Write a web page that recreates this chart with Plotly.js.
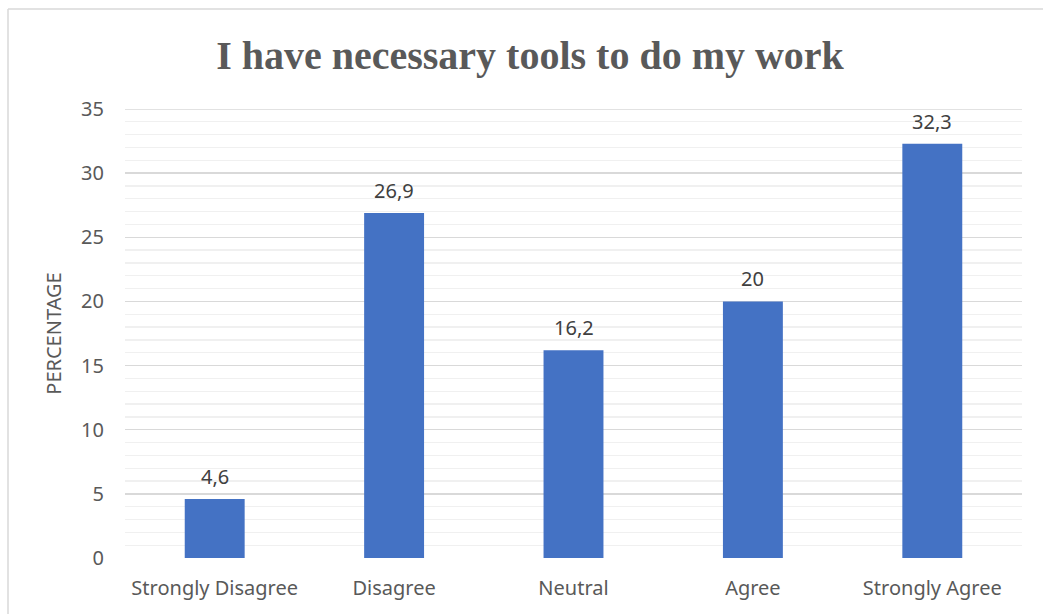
<!DOCTYPE html>
<html><head><meta charset="utf-8">
<script src="https://cdn.plot.ly/plotly-3.0.1.min.js"></script>
<style>html,body{margin:0;padding:0;background:#fff;}#chart{width:1043px;height:614px;}</style>
</head><body><div id="chart"></div>
<script>
const categories = ["Strongly Disagree", "Disagree", "Neutral", "Agree", "Strongly Agree"];
const percentages = [4.6, 26.9, 16.2, 20, 32.3];
const valueLabels = ["4,6", "26,9", "16,2", "20", "32,3"];
const yTickValues = [0, 5, 10, 15, 20, 25, 30, 35];

const L = 125, R = 21, T = 109, B = 56, W = 1043, H = 614;
const pw = W - L - R, ph = H - T - B;
const px = x => (x - L) / pw;
const py = y => (H - B - y) / ph;
const FONT = "Noto Sans, Open Sans, sans-serif";

const trace = {
  type: "bar",
  x: categories,
  y: percentages,
  marker: {color: "#4472C4"},
  hoverinfo: "x+y"
};

const labelAnnotations = categories.map((c, i) => ({
  x: c, y: percentages[i], xref: "x", yref: "y",
  text: valueLabels[i], showarrow: false,
  yanchor: "bottom", yshift: 7,
  font: {family: FONT, size: 20, color: "#404040"}
}));

const layout = {
  width: W, height: H,
  margin: {l: L, r: R, t: T, b: B},
  paper_bgcolor: "#fff", plot_bgcolor: "#fff",
  bargap: 0.666,
  showlegend: false,
  title: {
    text: "<b>I have necessary tools to do my work</b>",
    font: {family: "Liberation Serif, Times New Roman, serif", size: 40, color: "#595959"},
    x: px(530), xref: "paper", xanchor: "center",
    y: 0.91, yref: "container", yanchor: "middle"
  },
  xaxis: {
    type: "category",
    showgrid: false, zeroline: false, showline: false, ticks: "",
    tickfont: {family: FONT, size: 20, color: "#595959"},
    ticklabelstandoff: 16
  },
  yaxis: {
    range: [0, 35],
    tickvals: yTickValues,
    showgrid: true, gridcolor: "#d9d9d9", gridwidth: 1.3,
    zeroline: false, showline: false, ticks: "",
    ticklabelstandoff: 20,
    tickfont: {family: FONT, size: 20, color: "#595959"},
    minor: {dtick: 1, showgrid: true, gridcolor: "#f0f0f0", gridwidth: 1.3},
    title: {text: "PERCENTAGE", font: {family: FONT, size: 20, color: "#595959"}, standoff: 14}
  },
  annotations: labelAnnotations,
  shapes: [
    {type: "line", xref: "paper", yref: "y", x0: 0, x1: 1, y0: 35, y1: 35, line: {color: "#d9d9d9", width: 1.3}, layer: "below"},
    {type: "line", xref: "paper", yref: "paper", x0: px(8), x1: px(8), y0: py(9), y1: py(630), line: {color: "#d9d9d9", width: 1.5}},
    {type: "line", xref: "paper", yref: "paper", x0: px(8), x1: px(1060), y0: py(9), y1: py(9), line: {color: "#d9d9d9", width: 1.5}}
  ]
};

Plotly.newPlot("chart", [trace], layout, {staticPlot: true, displayModeBar: false});
</script></body></html>
